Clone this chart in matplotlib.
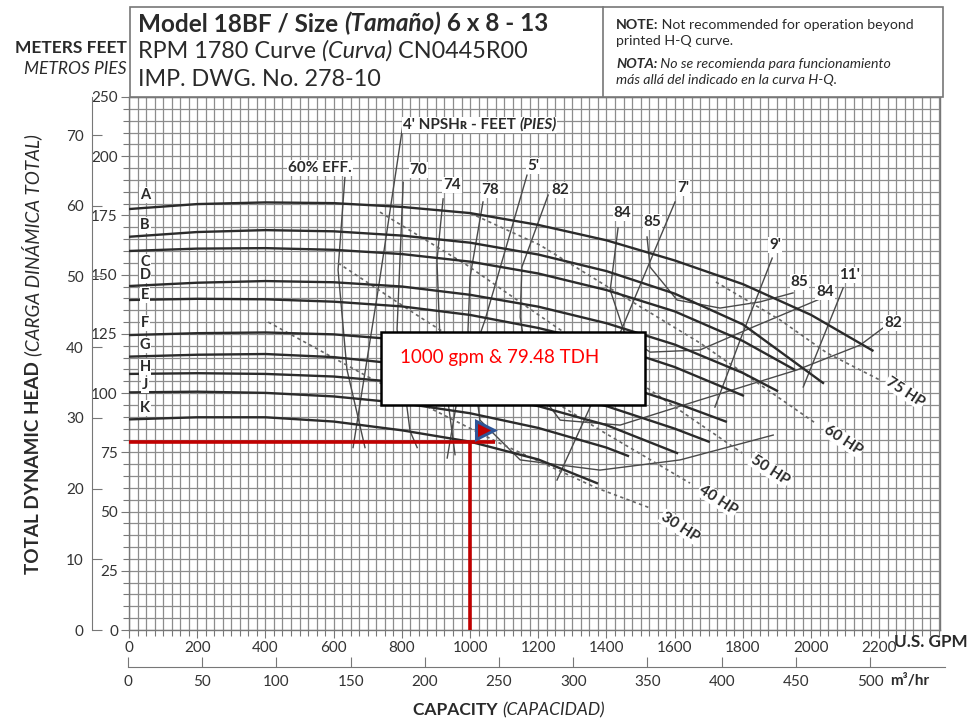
import matplotlib
matplotlib.use("Agg")
import matplotlib.pyplot as plt
from matplotlib.patches import Rectangle

plt.rcParams['font.family'] = ['Lato', 'DejaVu Sans']

W, H = 978, 721

# -----------------------------------------
# data (gpm, feet)
# -----------------------------------------
imp_names = ['A', 'B', 'C', 'D', 'E', 'F', 'G', 'H', 'J', 'K']
imp_label_ft = [183.6, 171, 155.3, 149.9, 141.4, 129.6, 120.3, 111, 103.4, 93.7]

A_gpm = [0, 200, 400, 600, 800, 1000, 1200, 1400, 1600, 1800, 2000, 2180]
A_ft = [177.7, 179.8, 180.5, 180.2, 178.6, 176, 171, 164.5, 156, 146, 133, 118]
B_gpm = [0, 200, 400, 600, 800, 1000, 1200, 1400, 1600, 1800, 2035]
B_ft = [166, 168, 168.8, 168.3, 166.5, 163.5, 158.5, 151.5, 142, 129, 104.3]
C_gpm = [0, 200, 400, 600, 800, 1000, 1200, 1400, 1600, 1800, 1950]
C_ft = [160, 161, 161.2, 160.5, 158.7, 155.5, 150.5, 143.5, 134.5, 122, 110]
D_gpm = [0, 200, 400, 600, 800, 1000, 1200, 1400, 1600, 1800, 1900]
D_ft = [145.2, 146.6, 147.3, 146.8, 145, 141.5, 136.5, 129.5, 120.5, 108.5, 101]
E_gpm = [0, 200, 400, 600, 800, 1000, 1200, 1400, 1600, 1800]
E_ft = [139.3, 139.8, 139.6, 138.6, 136.6, 133, 127.5, 120.5, 111, 99]
F_gpm = [0, 200, 400, 600, 800, 1000, 1200, 1400, 1600, 1750]
F_ft = [124.5, 125.3, 125.6, 124.8, 122.5, 118.5, 113, 105.5, 96, 88]
G_gpm = [0, 200, 400, 600, 800, 1000, 1200, 1400, 1600, 1700]
G_ft = [115.4, 116.2, 116.5, 115.2, 112.2, 108, 102, 94.5, 85, 79.5]
H_gpm = [0, 200, 400, 600, 800, 1000, 1200, 1400, 1607]
H_ft = [108.1, 108.4, 108.1, 107, 104.5, 100.3, 94.5, 86.5, 74.7]
J_gpm = [0, 200, 400, 600, 800, 1000, 1200, 1400, 1463]
J_ft = [100.3, 100.6, 100.1, 98.6, 95.8, 91.5, 85.3, 77, 73.5]
K_gpm = [0, 200, 400, 600, 800, 1000, 1200, 1372]
K_ft = [88.9, 89.8, 89.8, 88, 84.3, 79.5, 72, 62]

# efficiency contours
eff60_gpm = [633, 613, 639, 692]
eff60_ft = [191, 152, 110, 77]
eff70_gpm = [804, 786, 824, 845]
eff70_ft = [189, 127, 84, 77]
eff74_gpm = [921, 903, 912, 956]
eff74_ft = [182, 156, 122, 74]
eff78_gpm = [1038, 1000, 994, 1029, 1147, 1381, 1616, 1889]
eff78_ft = [180.7, 149, 126.6, 88.6, 71.8, 67.5, 71.8, 82.3]
eff82_gpm = [1229, 1152, 1147, 1176, 1264, 1440, 1674, 1959, 2144, 2211]
eff82_ft = [183.6, 153.2, 132.1, 105.5, 88.6, 86.5, 97.1, 109.8, 120.3, 127.5]
eff84_gpm = [1434, 1411, 1455, 1528, 1674, 1830, 2032]
eff84_ft = [169.7, 143.5, 124.5, 117.3, 118.2, 127.9, 140.1]
eff85_gpm = [1519, 1528, 1607, 1733, 1850, 1947]
eff85_ft = [165.9, 153.2, 139.3, 135.9, 138.5, 142.3]

# NPSHr lines
npsh4_gpm = [804, 732, 657]
npsh4_ft = [214, 145, 77]
npsh5_gpm = [1167, 1044, 962, 933]
npsh5_ft = [192, 130.9, 97.1, 72.6]
npsh7_gpm = [1601, 1440, 1352, 1255]
npsh7_ft = [180.7, 125.4, 94.1, 63.3]
npsh9_gpm = [1886, 1792, 1718]
npsh9_ft = [157, 122.4, 94.1]
npsh11_gpm = [2094, 1977]
npsh11_ft = [144.4, 102.6]

# horsepower lines
hp30_gpm = [408, 707, 1079, 1372, 1528]
hp30_ft = [130, 106.4, 79.4, 59.9, 51.5]
hp40_gpm = [613, 853, 1088, 1381, 1645]
hp40_ft = [154.9, 132.1, 110.6, 84.4, 62]
hp50_gpm = [736, 991, 1235, 1528, 1798]
hp50_ft = [176.4, 154, 129.6, 101.3, 74.7]
hp60_gpm = [1000, 1205, 1419, 1675, 2012]
hp60_ft = [176, 162.5, 143.5, 121.1, 87.4]
hp75_gpm = [1721, 1909, 2047, 2202]
hp75_ft = [146.9, 130.9, 116.9, 105.5]

hp_names = ['30 HP', '40 HP', '50 HP', '60 HP', '75 HP']
hp_label_gpm = [1616, 1727, 1880, 2094, 2276]
hp_label_ft = [43.5, 54.9, 67.5, 80.2, 100.5]

curve_text = ['60% EFF.', '70', '74', '78', '82', '84', '85', '85', '84', '82',
              "5'", "7'", "9'", "11'"]
curve_text_gpm = [560, 848, 947, 1059, 1264, 1446, 1534, 1965, 2041, 2240,
                  1185, 1625, 1894, 2114]
curve_text_ft = [195, 194.2, 187.8, 185.7, 185.7, 176, 172.2, 146.9, 142.7, 129.6,
                 195.9, 186.6, 162.5, 149.9]

gpm_ticks = [0, 200, 400, 600, 800, 1000, 1200, 1400, 1600, 1800, 2000, 2200]
ft_ticks = [0, 25, 50, 75, 100, 125, 150, 175, 200, 225]
ft_tick_labels = ['0', '25', '50', '75', '100', '125', '150', '175', '200', '250']
m_ticks = [0, 10, 20, 30, 40, 50, 60, 70]
m3h_ticks = [0, 50, 100, 150, 200, 250, 300, 350, 400, 450, 500]

duty_gpm = 1000
duty_tdh = 79.48

TXT = '#2a2a2a'
LBL_BOX = dict(facecolor='white', edgecolor='none', pad=0.6)


def fx(px):
    return px / W


def fy(py):
    return 1 - py / H


def rich_text(fig, x, y, parts, size, rotation=0, color=TXT, bbox=None):
    # draw text pieces one after another, switching weight/style
    r = fig.canvas.get_renderer()
    for s, weight, style in parts:
        t = fig.text(x, y, s, fontsize=size, fontweight=weight, fontstyle=style,
                     rotation=rotation, color=color, va='baseline', ha='left',
                     rotation_mode='anchor', zorder=10, bbox=bbox)
        bb = t.get_window_extent(r)
        if rotation == 0:
            x = bb.x1 / W
        else:
            y = bb.y1 / H


fig = plt.figure(figsize=(W / 100, H / 100), dpi=100)
ax = fig.add_axes([fx(129), fy(630), fx(940 - 129), (630 - 97) / H])
ax.set_xlim(0, 2378)
ax.set_ylim(0, 225)

# grid
ax.set_xticks(gpm_ticks)
ax.set_xticks(range(0, 2378, 25), minor=True)
ax.set_yticks(ft_ticks)
ax.set_yticklabels(ft_tick_labels)
ax.set_yticks(range(0, 226, 5), minor=True)
ax.grid(True, which='both', color='#8c8c8c', lw=0.9)
ax.set_axisbelow(True)
for s in ax.spines.values():
    s.set_color('#777777')
    s.set_linewidth(1.0)
ax.tick_params(which='both', direction='out', color='#777777', width=0.8)
ax.tick_params(which='major', length=6, labelsize=11, labelcolor='#333333', pad=2)
ax.tick_params(which='minor', length=4)

# impeller head curves
heads = [(A_gpm, A_ft), (B_gpm, B_ft), (C_gpm, C_ft), (D_gpm, D_ft), (E_gpm, E_ft),
         (F_gpm, F_ft), (G_gpm, G_ft), (H_gpm, H_ft), (J_gpm, J_ft), (K_gpm, K_ft)]
for q, h in heads:
    ax.plot(q, h, color='#2b2b2b', lw=1.7, zorder=4)
for name, hy in zip(imp_names, imp_label_ft):
    ax.text(47, hy, name, fontsize=10.5, fontweight='bold', color=TXT,
            ha='center', va='center', zorder=5, bbox=LBL_BOX)

# efficiency and npsh lines
thin = [(eff60_gpm, eff60_ft), (eff70_gpm, eff70_ft), (eff74_gpm, eff74_ft),
        (eff78_gpm, eff78_ft), (eff82_gpm, eff82_ft), (eff84_gpm, eff84_ft),
        (eff85_gpm, eff85_ft), (npsh4_gpm, npsh4_ft), (npsh5_gpm, npsh5_ft),
        (npsh7_gpm, npsh7_ft), (npsh9_gpm, npsh9_ft), (npsh11_gpm, npsh11_ft)]
for q, h in thin:
    ax.plot(q, h, color='#4a4a4a', lw=1.0, zorder=3)

# horsepower lines
hps = [(hp30_gpm, hp30_ft), (hp40_gpm, hp40_ft), (hp50_gpm, hp50_ft),
       (hp60_gpm, hp60_ft), (hp75_gpm, hp75_ft)]
for q, h in hps:
    ax.plot(q, h, color='#666666', lw=1.2, ls=(0, (2, 2)), zorder=3)
for name, q, h in zip(hp_names, hp_label_gpm, hp_label_ft):
    ax.text(q, h, name, fontsize=11, fontweight='bold', color=TXT, rotation=-33,
            ha='center', va='center', zorder=5, bbox=LBL_BOX)

for s, q, h in zip(curve_text, curve_text_gpm, curve_text_ft):
    ax.text(q, h, s, fontsize=11, fontweight='bold', color=TXT,
            ha='center', va='center', zorder=5, bbox=LBL_BOX)

# npsh title, last word in italics
px0, py0 = ax.transData.transform((803, 211.5))
rich_text(fig, px0 / W, py0 / H, [("4' NPSHʀ - FEET ", 'bold', 'normal'),
                                  ('(PIES)', 'bold', 'italic')], 11, bbox=LBL_BOX)

# duty point
ax.plot([0, 1073], [duty_tdh, duty_tdh], color='#c00000', lw=2.6, zorder=6,
        solid_capstyle='butt')
ax.plot([duty_gpm, duty_gpm], [0, duty_tdh], color='#c00000', lw=2.6, zorder=6,
        solid_capstyle='butt')
ax.plot([1045], [84.5], marker='>', ms=13, mfc='#c00000', mec='#2f5597', mew=2.2,
        zorder=7)
ax.add_patch(Rectangle((739, 95), 774, 30.8, facecolor='white', edgecolor='black',
                       lw=1.8, zorder=8))
ax.text(795, 115.2, '1000 gpm & 79.48 TDH', fontsize=13.5, color='red',
        va='center', ha='left', zorder=9)

# meters axis
axm = fig.add_axes([fx(92), fy(630), 0.0001, (630 - 97) / H])
axm.set_ylim(0, 225 * 0.335)
axm.set_xticks([])
axm.set_yticks(m_ticks)
for k in ['top', 'bottom', 'right']:
    axm.spines[k].set_visible(False)
axm.spines['left'].set_color('#777777')
axm.tick_params(axis='y', direction='in', length=7, color='#777777', width=0.8,
                labelsize=11, labelcolor='#333333', pad=6)

# m3/hr axis
axq = fig.add_axes([fx(128), fy(667), fx(945 - 128), 0.0001])
axq.set_xlim(0, 550.5)
axq.set_yticks([])
axq.set_xticks(m3h_ticks)
for k in ['top', 'left', 'right']:
    axq.spines[k].set_visible(False)
axq.spines['bottom'].set_color('#777777')
axq.tick_params(axis='x', direction='in', length=7, color='#777777', width=0.8,
                labelsize=11, labelcolor='#333333', pad=6)

rich_text(fig, fx(890), fy(685), [('m³/hr', 'bold', 'normal')], 11)
rich_text(fig, fx(894), fy(647), [('U.S. GPM', 'bold', 'normal')], 12.3)

# header box
fig.patches.append(Rectangle((fx(130), fy(97)), fx(943 - 130), (97 - 7) / H,
                             transform=fig.transFigure, facecolor='white',
                             edgecolor='#777777', lw=1.2))
fig.lines.append(plt.Line2D([fx(603), fx(603)], [fy(97), fy(7)],
                            transform=fig.transFigure, color='#777777', lw=1.2))

rich_text(fig, fx(138), fy(31), [('Model 18BF / Size ', 'bold', 'normal'),
                                 ('(Tamaño)', 'bold', 'italic'),
                                 (' 6 x 8 - 13', 'bold', 'normal')], 17.5)
rich_text(fig, fx(138), fy(58), [('RPM 1780 Curve ', 'normal', 'normal'),
                                 ('(Curva)', 'normal', 'italic'),
                                 (' CN0445R00', 'normal', 'normal')], 16.8)
rich_text(fig, fx(138), fy(86), [('IMP. DWG. No. 278-10', 'normal', 'normal')], 16.8)

rich_text(fig, fx(616), fy(29), [('NOTE:', 'bold', 'normal'),
                                 (' Not recommended for operation beyond', 'normal', 'normal')], 10.2)
rich_text(fig, fx(616), fy(45), [('printed H-Q curve.', 'normal', 'normal')], 10.2)
rich_text(fig, fx(616), fy(68), [('NOTA:', 'bold', 'italic'),
                                 (' No se recomienda para funcionamiento', 'normal', 'italic')], 10.2)
rich_text(fig, fx(616), fy(84), [('más allá del indicado en la curva H-Q.', 'normal', 'italic')], 10.2)

fig.text(fx(127), fy(53), 'METERS FEET', fontsize=12.5, fontweight='bold',
         color=TXT, ha='right')
fig.text(fx(127), fy(74), 'METROS PIES', fontsize=12.5, fontstyle='italic',
         color=TXT, ha='right')

rich_text(fig, fx(39), fy(574), [('TOTAL DYNAMIC HEAD ', 'bold', 'normal'),
                                 ('(CARGA DINÁMICA TOTAL)', 'normal', 'italic')],
          13.6, rotation=90)
rich_text(fig, fx(413), fy(715), [('CAPACITY ', 'bold', 'normal'),
                                  ('(CAPACIDAD)', 'normal', 'italic')], 12.5)

fig.savefig('out.png', dpi=100)
